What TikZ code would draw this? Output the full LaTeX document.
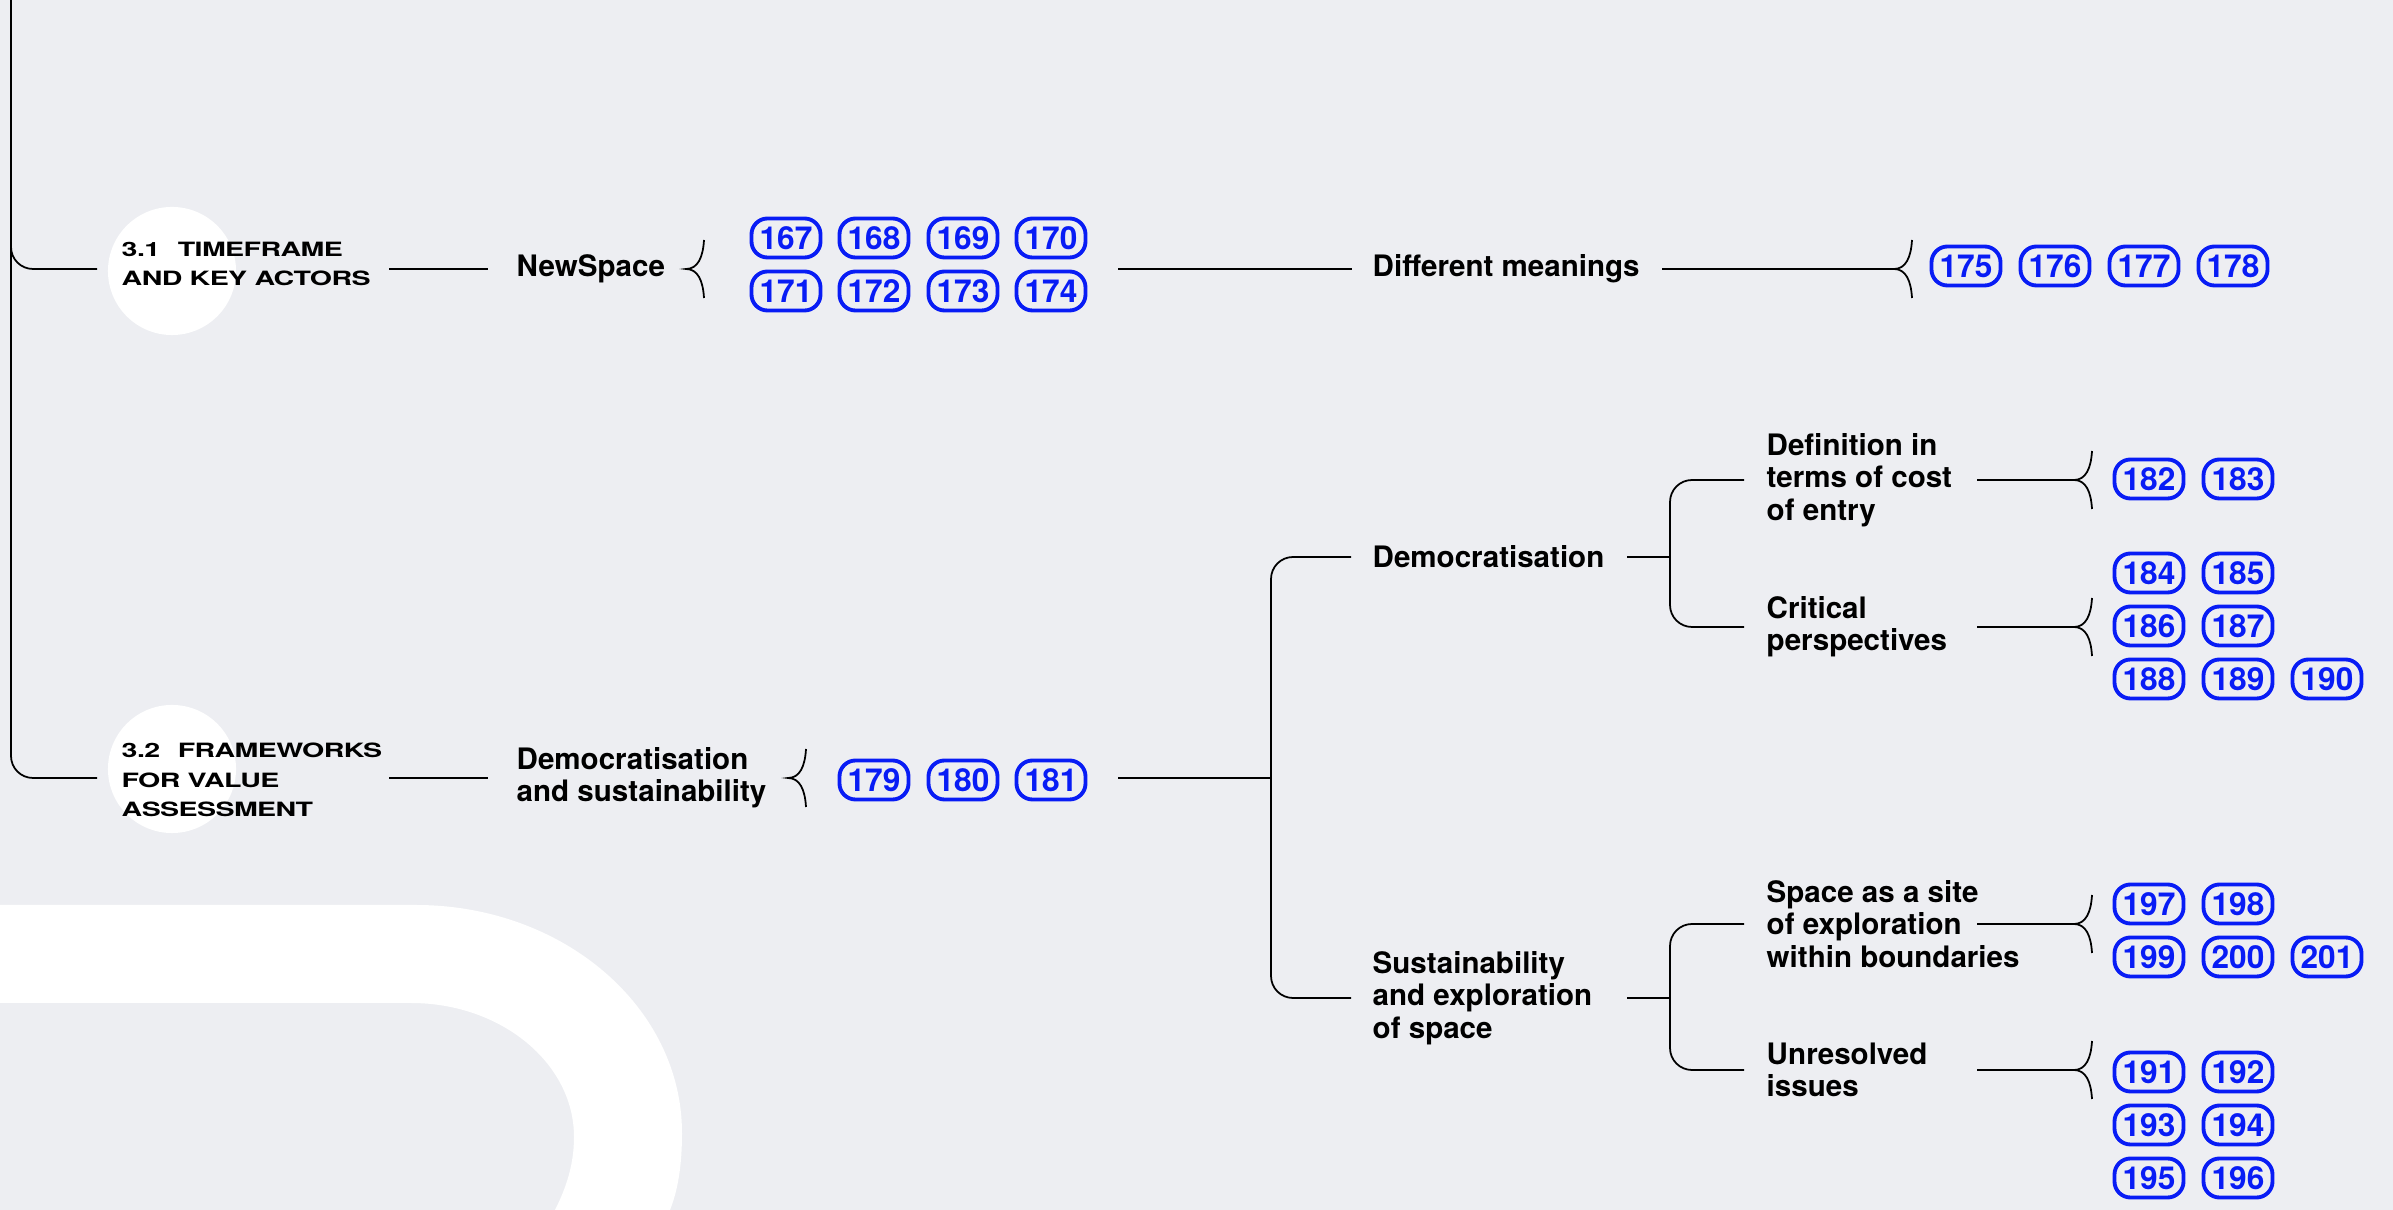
\documentclass[tikz,border=0pt]{standalone}
\usepackage{fontspec}
\setmainfont{TeX Gyre Heros}
\newfontfamily\secfont[FakeStretch=1.45,LetterSpace=-3]{TeX Gyre Heros}
\usepackage{xcolor}
\usepackage{tikz}
\usetikzlibrary{positioning}
\definecolor{bgc}{RGB}{237,238,242}
\definecolor{refblue}{RGB}{8,28,245}
\newcommand{\lblfont}{\bfseries\fontsize{8.4}{9.2}\selectfont}
\newcommand{\secsize}{\secfont\bfseries\fontsize{5.6}{8.4}\selectfont}
\newcommand{\reffont}{\bfseries\fontsize{9}{9}\selectfont}
% curly opening in front of a group of refs, tip at #1
\newcommand{\brc}[1]{\draw[ln, shift={(#1)}] (18,-29) .. controls (17,-12) and (12,0) .. (0,0) .. controls (12,0) and (17,12) .. (18,29);}

\begin{document}
\begin{tikzpicture}[
  x=0.01cm, y=-0.01cm,
  ln/.style={line width=0.5pt},
  trunk/.style={ln, rounded corners=0.22cm},
  sec/.style={anchor=west, align=left, inner xsep=0.24cm, font=\secsize},
  lbl/.style={anchor=west, align=left, inner xsep=0.21cm, font=\lblfont},
  ref/.style={draw=refblue, text=refblue, line width=1.1pt, rounded corners=0.16cm,
    minimum width=0.69cm, minimum height=0.39cm, inner sep=0pt, font=\reffont},
]
\useasboundingbox (0,0) rectangle (2393,1210);
\fill[bgc] (0,0) rectangle (2393,1210);
% backdrop shapes
\fill[white] (0,905) -- (416,905) .. controls (563,905) and (682,1007) .. (682,1133)
  .. controls (682,1165) and (678,1190) .. (670,1210) -- (555,1210)
  .. controls (566,1188) and (574,1165) .. (574,1137)
  .. controls (574,1063) and (501,1003) .. (411,1003) -- (0,1003) -- cycle;
\fill[white] (172,271) circle (0.64cm);
\fill[white] (172,769) circle (0.64cm);

% column ends
\coordinate (top) at (11,0);
\coordinate (x1) at (389,0);
\coordinate (x2) at (1662,0);
\coordinate (x3) at (1627,0);
\coordinate (x4) at (1977,0);

% sections
\node[sec] (s31) at (97,264) {3.1\hspace{5pt}TIMEFRAME\\AND KEY ACTORS};
\node[sec] (s32) at (97,780) {3.2\hspace{5pt}FRAMEWORKS\\FOR VALUE\\ASSESSMENT};

% topics
\node[lbl, inner xsep=0.28cm] (ns) at (488,269) {NewSpace};
\node[lbl, inner xsep=0.28cm] (ds) at (488,778) {Democratisation\\and sustainability};
\node[lbl, inner xsep=0.20cm] (dm) at (1352,269) {Different meanings};
\node[lbl] (dem) at (1351,557) {Democratisation};
\node[lbl] (sus) at (1351,998) {Sustainability\\and exploration\\of space};
\node[lbl, inner xsep=0.22cm] (def) at (1744,480) {Definition in\\terms of cost\\of entry};
\node[lbl, inner xsep=0.22cm] (crit) at (1744,627) {Critical\\perspectives};
\node[lbl, inner xsep=0.22cm] (spc) at (1744,924) {Space as a site\\of exploration\\within boundaries};
\node[lbl, inner xsep=0.22cm] (unr) at (1744,1070) {Unresolved\\issues};

% refs
\node[ref] (r167) at (786,238) {167}; \node[ref] (r168) at (874,238) {168};
\node[ref] (r169) at (963,238) {169}; \node[ref] (r170) at (1051,238) {170};
\node[ref] (r171) at (786,291) {171}; \node[ref] (r172) at (874,291) {172};
\node[ref] (r173) at (963,291) {173}; \node[ref] (r174) at (1051,291) {174};
\node[ref] (r175) at (1966,266) {175}; \node[ref] (r176) at (2055,266) {176};
\node[ref] (r177) at (2144,266) {177}; \node[ref] (r178) at (2233,266) {178};
\node[ref] (r179) at (874,780) {179}; \node[ref] (r180) at (963,780) {180};
\node[ref] (r181) at (1051,780) {181};
\node[ref] (r182) at (2149,479) {182}; \node[ref] (r183) at (2238,479) {183};
\node[ref] (r184) at (2149,573) {184}; \node[ref] (r185) at (2238,573) {185};
\node[ref] (r186) at (2149,626) {186}; \node[ref] (r187) at (2238,626) {187};
\node[ref] (r188) at (2149,679) {188}; \node[ref] (r189) at (2238,679) {189};
\node[ref] (r190) at (2327,679) {190};
\node[ref] (r197) at (2149,904) {197}; \node[ref] (r198) at (2238,904) {198};
\node[ref] (r199) at (2149,957) {199}; \node[ref] (r200) at (2238,957) {200};
\node[ref] (r201) at (2327,957) {201};
\node[ref] (r191) at (2149,1072) {191}; \node[ref] (r192) at (2238,1072) {192};
\node[ref] (r193) at (2149,1125) {193}; \node[ref] (r194) at (2238,1125) {194};
\node[ref] (r195) at (2149,1178) {195}; \node[ref] (r196) at (2238,1178) {196};

% connectors
\draw[trunk] (top) |- (s31.west |- ns);
\draw[trunk] (top) |- (s32.west |- ds);
\draw[ln] (ns -| x1) -- (ns.west);
\draw[ln] (ds -| x1) -- (ds.west);
\coordinate (kns) at (686,269); \brc{kns}
\coordinate (kds) at (788,778); \brc{kds}
\coordinate (o31) at (1118,269);
\draw[ln] (o31) -- (dm.west);
\draw[ln] (dm -| x2) -- ++(232,0) coordinate (kdm); \brc{kdm}
\coordinate (o32) at (1118,778);
\coordinate (j32) at (1271,778);
\draw[ln] (o32) -- (j32);
\draw[trunk] (j32) |- (dem.west);
\draw[trunk] (j32) |- (sus.west);
\draw[ln] (dem -| x3) -- ++(43,0) coordinate (j33);
\draw[trunk] (j33) |- (def.west);
\draw[trunk] (j33) |- (crit.west);
\draw[ln] (sus -| x3) -- ++(43,0) coordinate (j34);
\draw[trunk] (j34) |- (spc.west);
\draw[trunk] (j34) |- (unr.west);
\draw[ln] (def -| x4) -- ++(97,0) coordinate (kdef); \brc{kdef}
\draw[ln] (crit -| x4) -- ++(97,0) coordinate (kcrit); \brc{kcrit}
\draw[ln] (spc -| x4) -- ++(97,0) coordinate (kspc); \brc{kspc}
\draw[ln] (unr -| x4) -- ++(97,0) coordinate (kunr); \brc{kunr}
\end{tikzpicture}
\end{document}
